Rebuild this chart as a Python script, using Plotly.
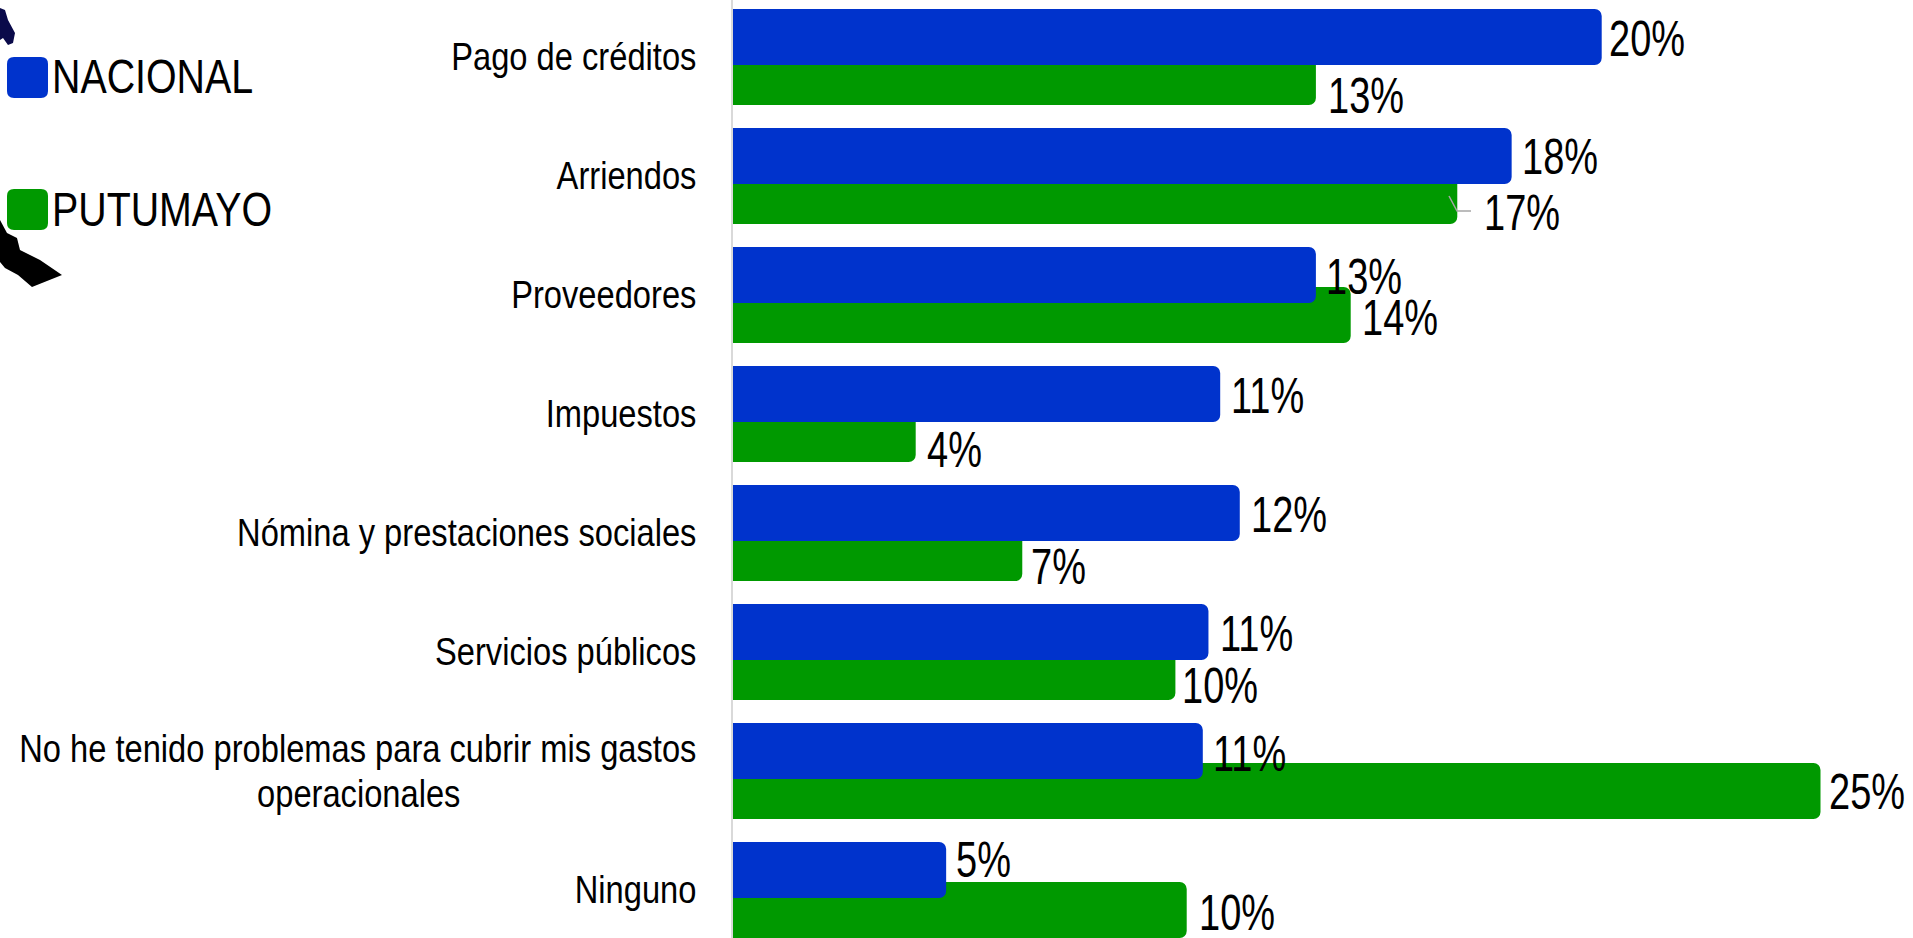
import plotly.graph_objects as go

categories = ["Pago de créditos", "Arriendos", "Proveedores", "Impuestos",
              "Nómina y prestaciones sociales", "Servicios públicos",
              "No he tenido problemas para cubrir mis gastos<br>operacionales", "Ninguno"]
tick_labels = categories[:6] + ["No he tenido problemas para cubrir mis gastos<br>operacionales" + "\u00a0" * 26, "Ninguno"]
nacional = [19.97, 17.9, 13.4, 11.2, 11.65, 10.93, 10.8, 4.9]
putumayo = [13.4, 16.65, 14.2, 4.2, 6.65, 10.17, 25.0, 10.43]
nacional_labels = ["20%", "18%", "13%", "11%", "12%", "11%", "11%", "5%"]
putumayo_labels = ["13%", "17%", "14%", "4%", "7%", "10%", "25%", "10%"]

# label nudges in pixels (right, down) relative to the end of each bar
nacional_nudge = [(5, 2), (8, 1), (8, 2), (9, 2), (9, 2), (10, 2), (8, 3), (8, -10)]
putumayo_nudge = [(10, 19), (25, 17), (9, 3), (9, 16), (7, 14), (5, 14), (6, 1), (10, 3)]

W, H = 1913, 938
L = 733
FONT = "Liberation Sans, Arial, sans-serif"
BLUE, GREEN = "#0033CC", "#009900"
PITCH = 119.0
BAR = 56 / PITCH


def px(x):
    return (x - L) / (W - L)


def py(y):
    return 1 - y / H


def path(points):
    return "M " + " L ".join(f"{px(x):.5f},{py(y):.5f}" for x, y in points) + " Z"


def rounded(x0, y0, x1, y1, r=7):
    return (f"M {px(x0 + r):.5f},{py(y0):.5f} L {px(x1 - r):.5f},{py(y0):.5f} Q {px(x1):.5f},{py(y0):.5f} {px(x1):.5f},{py(y0 + r):.5f} "
            f"L {px(x1):.5f},{py(y1 - r):.5f} Q {px(x1):.5f},{py(y1):.5f} {px(x1 - r):.5f},{py(y1):.5f} "
            f"L {px(x0 + r):.5f},{py(y1):.5f} Q {px(x0):.5f},{py(y1):.5f} {px(x0):.5f},{py(y1 - r):.5f} "
            f"L {px(x0):.5f},{py(y0 + r):.5f} Q {px(x0):.5f},{py(y0):.5f} {px(x0 + r):.5f},{py(y0):.5f} Z")


fig = go.Figure()
fig.add_trace(go.Bar(name="PUTUMAYO", y=categories, x=putumayo, orientation="h",
                     marker=dict(color=GREEN, line_width=0), width=BAR, offset=-8 / PITCH))
fig.add_trace(go.Bar(name="NACIONAL", y=categories, x=nacional, orientation="h",
                     marker=dict(color=BLUE, line_width=0), width=BAR, offset=-48 / PITCH))

annotations = []
for vals, labs, nudges, base in ((putumayo, putumayo_labels, putumayo_nudge, 20),
                                 (nacional, nacional_labels, nacional_nudge, -20)):
    for c, v, t, (dx, dy) in zip(categories, vals, labs, nudges):
        annotations.append(dict(x=v, y=c, xref="x", yref="y", text=t, showarrow=False,
                                xanchor="left", yanchor="middle", xshift=dx, yshift=-(base + dy),
                                font=dict(family=FONT, size=50, color="#000000")))
for name, y in (("NACIONAL", 76), ("PUTUMAYO", 209)):
    annotations.append(dict(x=px(50), y=py(y), xref="paper", yref="paper", text=name, showarrow=False,
                            xanchor="left", yanchor="middle",
                            font=dict(family=FONT, size=49, color="#000000")))

shapes = [
    dict(type="path", xref="paper", yref="paper", path=rounded(7, 57, 48, 98), fillcolor=BLUE, line_width=0),
    dict(type="path", xref="paper", yref="paper", path=rounded(7, 189, 48, 230), fillcolor=GREEN, line_width=0),
    dict(type="path", xref="paper", yref="paper", fillcolor="#0a0a4a", line_width=0,
         path=path([(0, 8), (5, 10), (8, 20), (15, 33), (13, 43), (8, 45), (3, 38), (0, 40)])),
    dict(type="path", xref="paper", yref="paper", fillcolor="#000000", line_width=0,
         path=path([(0, 220), (7, 233), (17, 238), (20, 250), (30, 255), (40, 260), (62, 275), (32, 287),
                    (18, 275), (5, 268), (0, 262)])),
    dict(type="path", xref="paper", yref="paper", line=dict(color="#a6a6a6", width=1.5),
         path=f"M {px(1449):.5f},{py(196):.5f} L {px(1457):.5f},{py(211):.5f} L {px(1471):.5f},{py(211):.5f}"),
]

fig.update_layout(
    width=W, height=H, barmode="overlay", barcornerradius=7, showlegend=False,
    paper_bgcolor="#ffffff", plot_bgcolor="#ffffff",
    margin=dict(l=L, r=0, t=0, b=0),
    annotations=annotations, shapes=shapes,
    xaxis=dict(range=[0, (W - L) / 43.5], visible=False, fixedrange=True, automargin=False),
    yaxis=dict(type="category", categoryorder="array", categoryarray=categories,
               range=[(H - 57) / PITCH, -57 / PITCH], tickvals=categories, ticktext=tick_labels,
               showline=True, linecolor="#d9d9d9", linewidth=2, showgrid=False, ticks="",
               ticklabelstandoff=27, fixedrange=True, automargin=False,
               tickfont=dict(family=FONT, size=38, color="#000000")),
)

# The reference's text is horizontally condensed: squeeze each real text element about its anchor edge.
condense = """
document.body.style.margin = '0';
function squeeze(el, k, side, dy) {
  var b = el.getBBox();
  var ax = side === 'right' ? b.x + b.width : b.x;
  var old = el.getAttribute('transform') || '';
  el.setAttribute('transform', old + ' translate(' + ax + ',' + dy + ') scale(' + k + ',1) translate(' + (-ax) + ',0)');
}
document.querySelectorAll('.ytick text').forEach(function (t) {
  var lines = t.querySelectorAll('tspan.line');
  var two = lines.length > 1;
  if (two) { lines[1].setAttribute('y', parseFloat(lines[1].getAttribute('y') || t.getAttribute('y')) - 4); }
  squeeze(t, 0.86, 'right', two ? 2 : 0);
});
document.querySelectorAll('.annotation-text').forEach(function (t) {
  squeeze(t, /%/.test(t.textContent) ? 0.76 : 0.803, 'left', 0);
});
"""
fig.write_html("out.html", config={"displayModeBar": False}, post_script=condense)
